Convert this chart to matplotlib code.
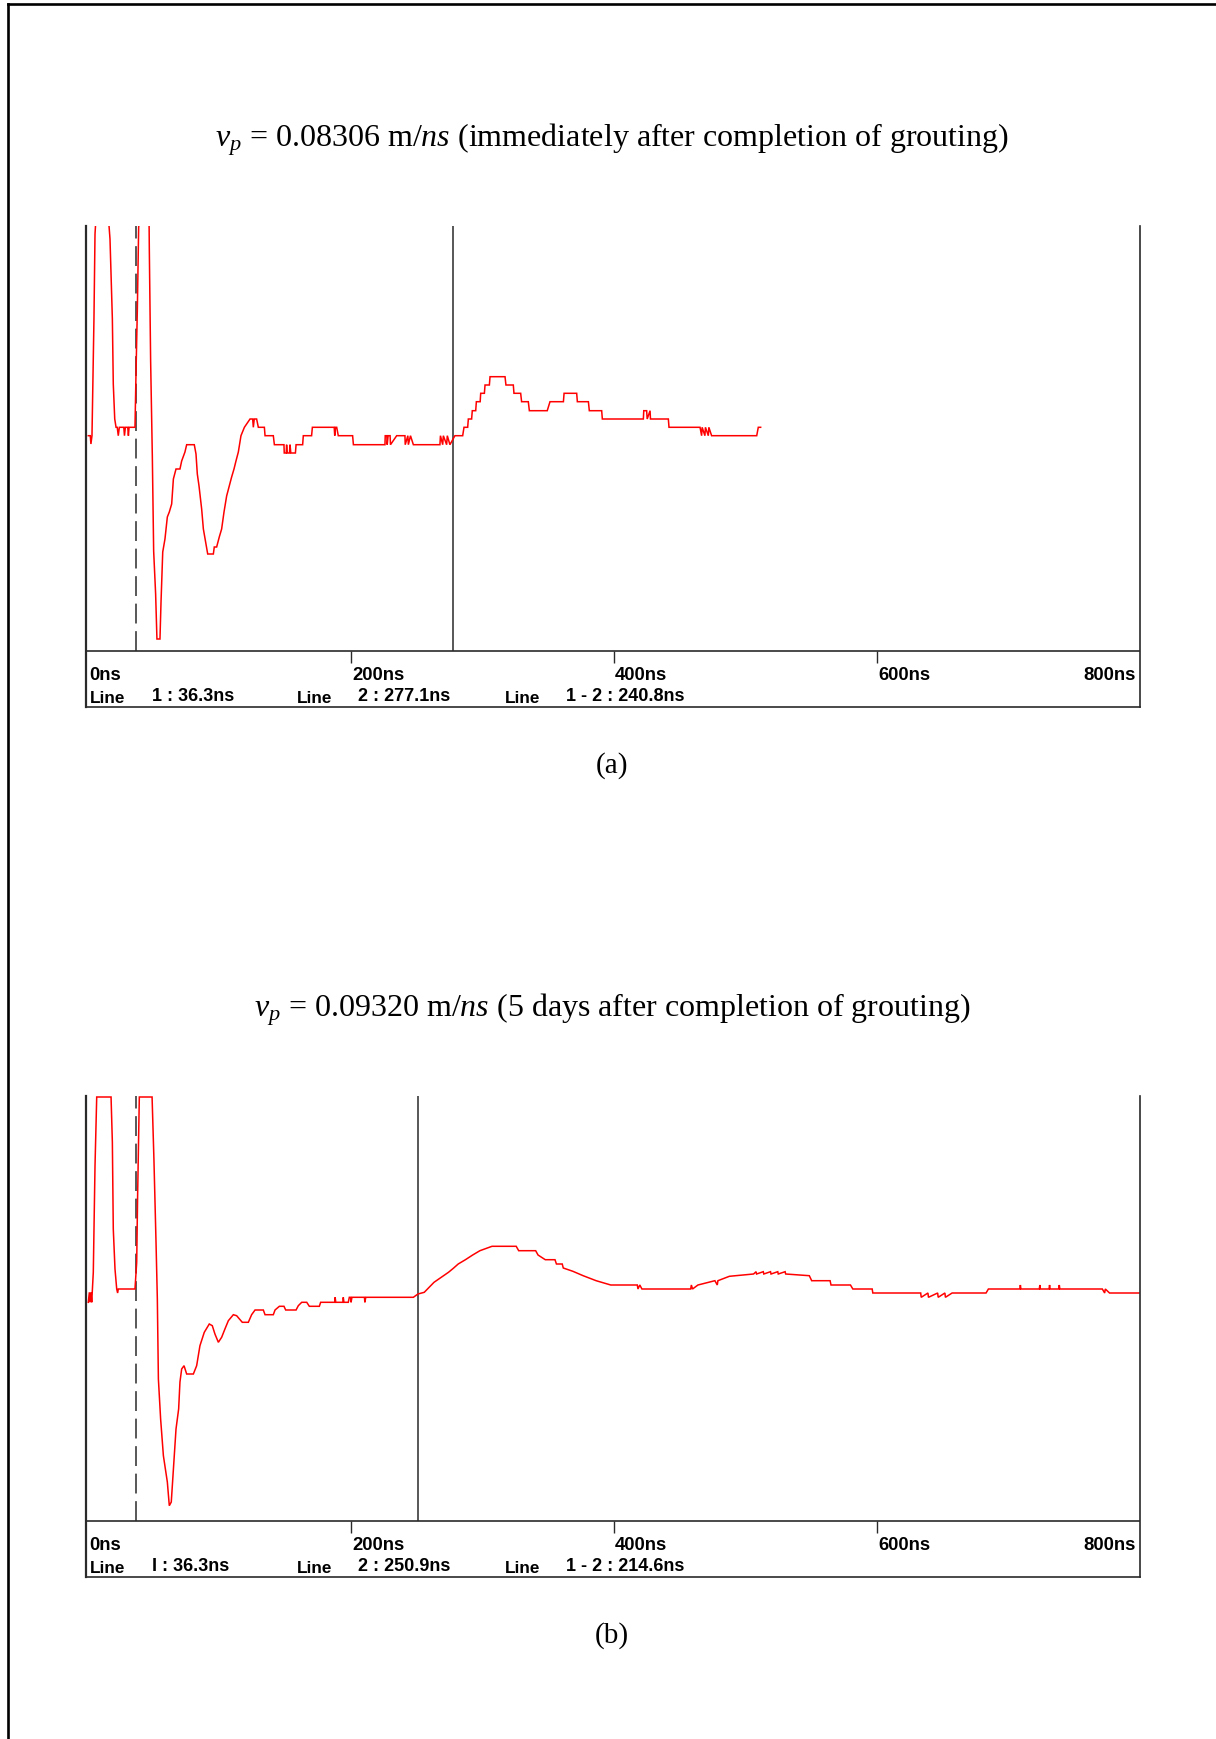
import matplotlib
matplotlib.use("Agg")
import matplotlib.pyplot as plt
from matplotlib.lines import Line2D

W, H = 1216, 1740

plt.rcParams["mathtext.fontset"] = "custom"
plt.rcParams["mathtext.rm"] = "Liberation Serif"
plt.rcParams["mathtext.it"] = "Liberation Serif:italic"

# ---- data (time in ns, amplitude in screen units) ----
tick_vals = [0, 200, 400, 600, 800]
tick_labels = ["0ns", "200ns", "400ns", "600ns", "800ns"]

titles = [r"$v_p$ = 0.08306 m/$ns$ (immediately after completion of grouting)",
          r"$v_p$ = 0.09320 m/$ns$ (5 days after completion of grouting)"]
captions = ["(a)", "(b)"]

line1_a, line2_a = 36.3, 277.1
line1_b, line2_b = 36.3, 250.9
readouts_a = ["1 : 36.3ns", "2 : 277.1ns", "1 - 2 : 240.8ns"]
readouts_b = ["I : 36.3ns", "2 : 250.9ns", "1 - 2 : 214.6ns"]

# (time ns, amplitude)
trace_a = [
    (0.0, 3.3), (1.5, 3.3), (2.0, -5.0), (2.8, 3.3), (3.8, 83), (4.3, 120), (5.1, 205),
    (5.8, 220), (10.9, 300), (16.5, 200), (18.3, 120), (19.0, 55), (20.1, 20),
    (21.1, 11.7), (22.0, 11.7), (22.8, 3.3), (23.6, 11.7), (27.0, 11.7), (27.5, 3.3),
    (28.2, 11.7), (30.0, 11.7), (30.5, 3.3), (31.0, 11.7), (35.5, 11.7), (36.3, 67),
    (37.3, 130), (38.3, 212), (39.3, 220), (42.6, 300), (46.2, 220), (46.4, 190),
    (47.4, 78), (48.7, -18), (49.7, -112), (51.2, -155), (52.2, -200), (54.5, -200),
    (55.3, -163), (56.6, -113), (58.3, -100), (60.1, -78), (61.6, -73), (63.4, -65),
    (64.7, -40), (66.7, -30), (69.7, -30), (71.0, -22), (73.5, -13), (74.8, -5.7),
    (80.6, -5.7), (81.9, -15), (82.9, -35), (84.2, -47), (86.2, -70), (87.5, -90),
    (89.5, -105), (90.8, -115), (95.1, -115), (95.8, -108), (97.6, -108), (99.6, -98),
    (101.4, -90), (103.2, -73), (105.2, -57), (107.2, -47), (109.0, -38), (110.8, -30),
    (112.3, -22), (114.1, -13), (116.1, 3.3), (118.7, 11.7), (123.0, 20), (125.0, 20),
    (125.5, 11.7), (126.2, 20), (128.0, 20), (129.3, 11.7), (133.9, 11.7), (134.4, 3.3),
    (140.7, 3.3), (141.5, -5.7), (148.8, -5.7), (149.0, -14), (150.5, -14),
    (150.8, -5.7), (151.3, -14), (153.0, -14), (153.4, -5.7), (154.0, -14),
    (157.5, -14), (158.0, -5.7), (163.0, -5.7), (163.5, 3.3), (169.8, 3.3),
    (170.4, 11.7), (187.0, 11.7), (187.4, 3.3), (188.0, 11.7), (188.9, 11.7),
    (190.1, 3.3), (201.0, 3.3), (201.6, -5.7), (225.6, -5.7), (225.8, 3.3),
    (227.0, 3.3), (227.3, -5.7), (228.0, 3.3), (229.5, 3.3), (229.8, -5.7),
    (234.5, 3.3), (240.8, 3.3), (241.0, -5.7), (243.0, 3.3), (243.4, -5.7),
    (245.0, 3.3), (247.2, -5.7), (267.4, -5.7), (267.8, 3.3), (269.5, -5.7),
    (270.0, 3.3), (272.5, -5.7), (273.0, 3.3), (275.0, -5.7), (278.8, 3.3),
    (284.7, 3.3), (285.7, 11.7), (288.5, 11.7), (289.0, 20), (291.5, 20), (292.0, 28.3),
    (294.6, 28.3), (295.1, 37.3), (298.0, 37.3), (298.4, 45.7), (301.2, 45.7),
    (301.7, 54), (305.0, 54), (305.5, 62.3), (316.9, 62.3), (317.6, 54), (323.2, 54),
    (323.7, 45.7), (328.8, 45.7), (329.5, 37.3), (334.6, 37.3), (335.4, 28.3),
    (349.0, 28.3), (351.1, 37.3), (361.3, 37.3), (361.8, 45.7), (371.4, 45.7),
    (371.9, 37.3), (380.3, 37.3), (381.0, 28.3), (390.4, 28.3), (390.9, 20),
    (422.1, 20), (422.4, 28.3), (424.6, 28.3), (425.0, 20), (427.2, 28.3), (427.5, 20),
    (441.1, 20), (441.6, 11.7), (465.2, 11.7), (466.4, 3.3), (466.8, 11.7),
    (468.9, 3.3), (469.3, 11.7), (471.5, 3.3), (471.9, 11.7), (474.0, 3.3),
    (476.6, 3.3), (508.3, 3.3), (509.5, 11.7), (511.3, 11.7),
]

trace_b = [
    (0.0, 6.7), (0.8, 16.7), (1.3, 6.7), (2.0, 16.7), (2.6, 6.7), (3.8, 36.7),
    (5.1, 143), (6.4, 212), (17.3, 212), (18.3, 166.7), (19.0, 80), (20.3, 40),
    (21.6, 20), (22.3, 16), (22.8, 20), (35.5, 20), (36.8, 46.7), (37.5, 113),
    (38.8, 212), (48.5, 212), (49.9, 150), (51.5, 66.7), (52.5, 10), (53.3, -70),
    (55.0, -110), (57.1, -146.7), (60.1, -173), (61.6, -196.7), (63.1, -193),
    (64.7, -160), (66.7, -120), (68.7, -100), (69.7, -73), (71.0, -60), (72.8, -56.7),
    (74.8, -65), (79.9, -65), (82.4, -56.7), (84.9, -36.7), (88.2, -23.3), (92.0, -15),
    (94.3, -16.7), (96.3, -25), (98.9, -33.3), (101.4, -28.3), (103.9, -20),
    (106.5, -11.7), (110.3, -5.7), (112.8, -6.7), (117.1, -13.3), (121.7, -13.3),
    (124.2, -5.7), (126.8, -1), (133.1, -1), (134.4, -5.7), (140.7, -5.7), (142.0, -1),
    (145.3, 2.7), (148.8, 2.7), (150.1, -1), (158.0, -1), (159.7, 3.3), (162.3, 6.7),
    (166.1, 6.7), (168.1, 2.7), (175.7, 2.7), (176.7, 6.7), (187.4, 6.7),
    (187.7, 11.7), (188.2, 6.7), (193.6, 6.7), (193.9, 11.7), (194.4, 6.7),
    (197.7, 6.7), (198.5, 11.7), (199.5, 11.7), (199.8, 6.7), (200.5, 11.7),
    (210.0, 11.7), (210.3, 6.7), (211.0, 11.7), (247.2, 11.7), (250.7, 15),
    (255.5, 16.7), (259.2, 21.7), (262.9, 26.7), (266.5, 30), (270.2, 33.3),
    (273.9, 36.7), (277.6, 40.7), (281.3, 45), (286.8, 49.3), (292.3, 54), (297.8, 58.3),
    (307.0, 62.7), (325.4, 62.7), (327.3, 58.3), (340.2, 58.3), (342.0, 54),
    (347.5, 49.3), (354.9, 49.3), (356.0, 45), (360.4, 45), (361.2, 41), (368.5, 37.7),
    (376.3, 33.3), (386.2, 28.3), (397.3, 24), (417.5, 24), (418.0, 20), (419.4, 24),
    (421.0, 20), (423.1, 20), (458.1, 20), (458.6, 24), (459.5, 20), (463.6, 24),
    (476.5, 28.3), (478.3, 24), (478.8, 28.3), (487.5, 32.7), (505.9, 35),
    (507.8, 37.3), (508.2, 35), (513.3, 37.3), (513.7, 35), (518.8, 37.3), (519.2, 35),
    (524.3, 37.3), (524.7, 35), (529.9, 37.3), (530.3, 35), (548.3, 33.3),
    (550.1, 28.3), (564.1, 28.3), (564.8, 24), (579.6, 24), (581.4, 20), (596.1, 20),
    (596.6, 16), (598.0, 16), (633.0, 16), (633.4, 11.7), (638.5, 16), (638.9, 11.7),
    (645.9, 16), (646.3, 11.7), (651.4, 16), (651.8, 11.7), (656.9, 16), (682.7, 16),
    (684.5, 20), (708.4, 20), (708.8, 24), (709.2, 20), (723.2, 20), (723.6, 24),
    (724.0, 20), (730.6, 20), (731.0, 24), (731.4, 20), (738.0, 20), (738.4, 24),
    (738.8, 20), (771.1, 20), (772.9, 16), (773.4, 20), (776.6, 16), (799.0, 16),
]

# ---- layout in pixels ----
X0, PX_NS = 88.3, 1.315          # pixel of 0 ns, pixels per ns
LEFT, RIGHT = 86, 1139.5
FRAME_C = "#2a2a2a"
LABEL_FONT = ["Liberation Sans", "DejaVu Sans"]

fig = plt.figure(figsize=(W / 100, H / 100), dpi=100)


def draw_panel(off, trace, line1, line2, readouts, title, caption):
    top, bottom = 227 + off, 708 + off
    ax = fig.add_axes([LEFT / W, 1 - bottom / H, (RIGHT - LEFT) / W, (bottom - top) / H])
    ax.set_xlim((LEFT - X0) / PX_NS, (RIGHT - X0) / PX_NS)
    ax.set_ylim(-268, 213)
    ax.set_xticks([])
    ax.set_yticks([])
    ax.spines["top"].set_visible(False)
    for s in ("left", "right", "bottom"):
        ax.spines[s].set_color(FRAME_C)
        ax.spines[s].set_linewidth(1.2)
    ax.spines["left"].set_linewidth(1.6)

    base = -212
    ax.axhline(base, color=FRAME_C, lw=1.2)
    ax.vlines(tick_vals[1:4], base - 12, base, color=FRAME_C, lw=1.0)
    ax.vlines(line1, base, 213, color=FRAME_C, lw=1.1, linestyles=(0, (13, 5)))
    ax.vlines(line2, base, 213, color=FRAME_C, lw=1.1)

    t = [p[0] for p in trace]
    amp = [p[1] for p in trace]
    ax.plot(t, amp, color="#ff0000", lw=1.1, solid_joinstyle="miter")

    for v, lab in zip(tick_vals, tick_labels):
        ha = "right" if v == tick_vals[-1] else "left"
        x = 796.5 if v == tick_vals[-1] else v + 0.5
        ax.text(x, -235.5, lab, ha=ha, va="center", fontsize=13.3,
                fontweight="bold", family=LABEL_FONT)

    line_x = [1.0, 158.5, 316.5]
    val_x = [48.3, 205.2, 363.3]
    for lx, vx, r in zip(line_x, val_x, readouts):
        ax.text(lx, -258.5, "Line", ha="left", va="center", fontsize=12.3,
                fontweight="bold", family=LABEL_FONT)
        ax.text(vx, -257.0, r, ha="left", va="center", fontsize=13,
                fontweight="bold", family=LABEL_FONT)

    fig.text(612 / W, 1 - (147 + off) / H, title, ha="center", va="baseline",
             fontsize=23, family="Liberation Serif")
    fig.text(612 / W, 1 - (765.5 + off) / H, caption, ha="center", va="center",
             fontsize=21, family="Liberation Serif")


draw_panel(0, trace_a, line1_a, line2_a, readouts_a, titles[0], captions[0])
draw_panel(870, trace_b, line1_b, line2_b, readouts_b, titles[1], captions[1])

# page frame (only left and top edges visible)
fig.add_artist(Line2D([7.5 / W, 7.5 / W], [0, 1 - 5 / H], color="black", lw=1.9))
fig.add_artist(Line2D([7.5 / W, 1], [1 - 5 / H, 1 - 5 / H], color="black", lw=1.9))

fig.savefig("out.png", dpi=100, facecolor="white")
